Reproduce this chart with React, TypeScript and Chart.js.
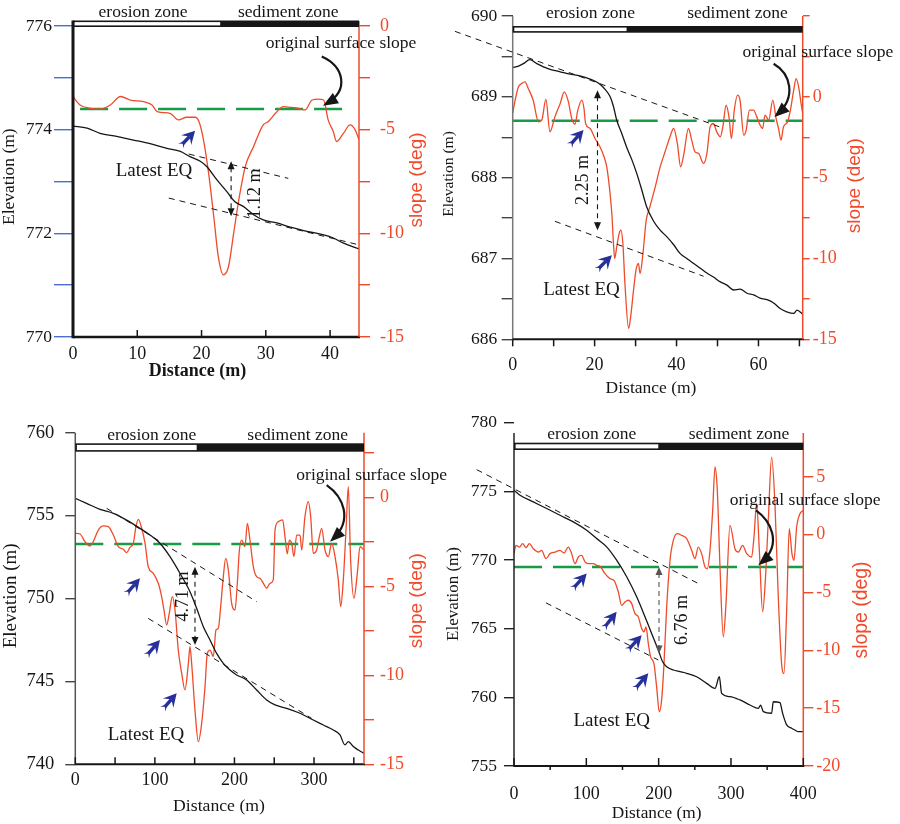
import React, { useEffect, useRef } from 'react';
import { Chart, registerables } from 'chart.js';

Chart.register(...registerables);

const SERIF = '"Liberation Serif", "Times New Roman", serif';
const SANS = '"Liberation Sans", Arial, sans-serif';
const RED = '#ef4b2b';
const GREEN = '#169c45';
const BLUE = '#27309a';
const INK = '#161616';

// ---------------- Panel 1 (top-left) ----------------
const p1ElevX = [0, 2.2, 4.2, 6.8, 9.4, 12.0, 14.6, 16.7, 18.2, 19.8, 20.8, 22.4, 23.9, 25.2, 26.5, 28.1, 29.6, 31.7, 33.8, 36.4, 39.0, 40.5, 42.1, 44.5];
const p1ElevY = [774.07, 774.03, 773.93, 773.87, 773.80, 773.73, 773.64, 773.58, 773.48, 773.39, 773.29, 773.03, 772.81, 772.61, 772.52, 772.36, 772.26, 772.20, 772.12, 772.04, 771.97, 771.91, 771.81, 771.70];
const p1SlopeX = [0, 1.1, 2.7, 4.2, 5.8, 7.4, 8.9, 11.0, 12.3, 13.1, 15.1, 16.4, 17.7, 19.0, 19.6, 20.3, 21.1, 21.9, 22.6, 23.4, 24.2, 25.0, 25.8, 26.8, 28.1, 29.6, 30.4, 31.5, 32.7, 33.8, 35.1, 36.1, 37.2, 38.2, 39.0, 39.7, 40.5, 41.0, 42.1, 43.1, 43.9, 44.5];
const p1SlopeY = [-3.40, -3.81, -3.97, -4.01, -3.81, -3.40, -3.57, -3.65, -3.81, -4.13, -4.21, -4.53, -4.40, -4.40, -4.61, -5.49, -7.10, -9.19, -11.11, -12.0, -11.6, -9.99, -8.38, -6.78, -5.81, -4.77, -4.61, -4.21, -3.89, -3.92, -3.97, -4.05, -3.57, -3.53, -3.57, -4.53, -5.09, -5.57, -5.17, -4.77, -5.01, -5.49];
const p1GreenX = [1.1, 42.6];
const p1GreenY = -4.0;
const p1Fits = [[18.0, 773.53, 33.5, 773.06], [14.9, 772.68, 44.4, 771.78]];
const p1Blue = [[16.4, 773.64, 19.0, 773.98]];
const p1Measure = [24.6, 773.39, 772.33];
const p1MeasureLabel = [28.3, 772.77];
const p1Curve = [38.7, 775.41, 42.1, 775.22, 43.1, 774.77, 38.9, 774.46];
const p1EqLabel = [12.6, 773.2];
const p1OrigLabel = [41.7, 775.67];
const p1ZoneSplit = 22.9;
const p1ZoneTextX = [10.9, 33.5];

// ---------------- Panel 2 (top-right) ----------------
const p2ElevX = [0, 1.4, 2.6, 4.2, 5.9, 7.5, 9.1, 11.6, 14.0, 16.4, 18.9, 20.9, 22.6, 23.8, 24.6, 25.4, 26.6, 27.8, 29.1, 30.3, 31.5, 32.7, 34.4, 36.0, 37.6, 39.3, 40.9, 42.5, 44.1, 45.8, 47.4, 49.0, 50.7, 52.3, 53.9, 55.5, 57.2, 58.8, 60.4, 62.1, 63.7, 65.3, 66.9, 68.6, 69.4, 70.8];
const p2ElevY = [689.36, 689.38, 689.41, 689.46, 689.41, 689.37, 689.34, 689.31, 689.28, 689.26, 689.22, 689.17, 689.09, 689.00, 688.88, 688.71, 688.55, 688.38, 688.22, 688.05, 687.85, 687.64, 687.46, 687.35, 687.27, 687.17, 687.06, 687.00, 686.94, 686.88, 686.82, 686.77, 686.71, 686.67, 686.61, 686.62, 686.57, 686.55, 686.51, 686.49, 686.45, 686.38, 686.34, 686.32, 686.36, 686.31];
const p2SlopeX = [0, 0.6, 1.4, 2.2, 3.0, 3.8, 5.0, 6.3, 7.1, 8.1, 9.1, 10.3, 11.6, 12.6, 13.6, 14.4, 15.2, 15.9, 16.9, 17.4, 17.8, 18.9, 20.1, 21.3, 22.3, 22.96, 23.6, 24.2, 24.6, 24.9, 25.4, 26.0, 26.4, 26.9, 27.4, 28.3, 28.8, 29.5, 30.1, 30.7, 31.1, 31.8, 32.6, 33.5, 34.8, 36.0, 37.2, 38.4, 39.3, 40.2, 41.0, 41.8, 42.9, 43.7, 44.5, 45.4, 46.6, 47.4, 48.2, 49.0, 49.8, 50.7, 51.3, 52.1, 52.8, 53.4, 54.1, 54.9, 55.5, 56.4, 57.0, 57.8, 58.8, 59.6, 60.4, 61.0, 61.6, 62.5, 63.5, 64.3, 64.9, 65.5, 66.1, 67.1, 67.8, 68.6, 69.2, 69.8, 70.4, 70.8];
const p2SlopeY = [-1.03, -0.21, 0.62, 0.82, 0.93, 0.52, -0.21, -1.55, -1.44, -0.16, -2.16, -1.24, -0.41, 0.31, -0.31, -1.34, -1.69, -0.82, -0.21, -0.72, -1.65, -1.96, -2.58, -3.09, -3.71, -4.33, -5.57, -7.22, -9.07, -10.0, -9.28, -8.45, -8.25, -9.07, -11.55, -14.33, -13.6, -11.96, -10.72, -10.31, -10.93, -9.69, -7.63, -6.8, -5.57, -4.33, -3.40, -2.47, -1.96, -2.89, -4.33, -3.51, -1.96, -2.68, -3.40, -3.51, -4.12, -3.51, -1.86, -1.65, -2.16, -2.47, -1.86, -0.52, -1.24, -2.58, -0.82, 0.10, -0.21, -2.37, -2.06, -0.82, -0.82, -1.24, -1.75, -1.96, -1.13, -1.44, -0.21, -1.34, -1.96, -2.68, -1.86, -1.55, -0.82, 0.41, 1.13, 0.62, -0.41, -1.03];
const p2GreenX = [0, 70.8];
const p2GreenY = -1.48;
const p2Fits = [[-14.1, 689.81, 51.5, 688.61], [10.3, 687.46, 46.6, 686.78]];
const p2Blue = [[13.2, 688.36, 17.3, 688.59], [19.9, 686.82, 24.2, 687.04]];
const p2Measure = [20.7, 689.08, 687.35];
const p2MeasureLabel = [17.2, 687.97];
const p2Curve = [63.7, 689.41, 67.8, 689.29, 69.4, 689.0, 63.9, 688.75];
const p2EqLabel = [16.8, 686.61];
const p2OrigLabel = [74.5, 689.55];
const p2ZoneSplit = 27.8;
const p2ZoneTextX = [19.0, 54.9];

// ---------------- Panel 3 (bottom-left) ----------------
const p3ElevX = [0, 14.2, 31.0, 47.8, 64.5, 81.3, 93.8, 106.4, 119.0, 131.5, 144.1, 152.5, 160.9, 169.3, 177.6, 186.0, 194.4, 202.8, 215.3, 227.9, 240.5, 251.0, 265.6, 282.4, 299.1, 311.7, 324.3, 332.6, 338.9, 343.1, 349.4, 355.7, 362.8];
const p3ElevY = [756.04, 755.74, 755.38, 755.14, 754.73, 754.23, 753.83, 753.33, 752.52, 751.52, 750.41, 749.41, 748.30, 747.50, 746.69, 746.09, 745.69, 745.39, 745.09, 744.48, 743.88, 743.58, 743.38, 743.08, 742.67, 742.37, 742.07, 741.77, 741.17, 741.37, 741.07, 740.86, 740.66];
const p3SlopeX = [0, 5.9, 12.1, 18.4, 22.6, 28.9, 35.2, 41.5, 47.8, 54.1, 60.3, 64.5, 68.7, 72.9, 76.2, 79.2, 83.4, 87.6, 91.7, 98.0, 104.3, 108.5, 111.4, 114.8, 118.1, 121.9, 125.3, 129.4, 133.7, 137.8, 142.1, 144.1, 146.2, 150.4, 154.6, 158.8, 163.0, 165.9, 169.3, 173.4, 176.8, 179.7, 182.7, 186.0, 189.0, 192.3, 196.5, 200.7, 203.6, 206.2, 209.0, 213.2, 216.2, 219.5, 223.7, 227.9, 232.1, 236.3, 240.5, 244.7, 248.8, 251.0, 255.1, 260.6, 263.5, 266.4, 269.0, 271.9, 274.8, 278.2, 282.4, 284.5, 288.6, 292.8, 295.8, 299.1, 303.3, 306.7, 309.6, 313.8, 318.0, 322.2, 326.4, 330.5, 333.5, 336.8, 340.2, 343.1, 346.0, 350.2, 354.4, 357.8, 362.8];
const p3SlopeY = [-2.02, -2.06, -2.49, -2.73, -2.49, -1.84, -1.61, -1.65, -2.12, -2.77, -2.92, -3.11, -2.81, -2.58, -1.65, -1.24, -1.74, -2.58, -3.90, -4.27, -4.83, -5.58, -6.33, -7.17, -6.52, -5.58, -6.33, -8.58, -9.89, -10.82, -9.33, -8.39, -9.33, -11.95, -13.73, -12.70, -10.64, -8.76, -8.58, -8.95, -7.45, -7.36, -6.14, -4.46, -3.43, -4.08, -5.96, -6.33, -4.83, -2.96, -2.40, -2.77, -1.46, -2.40, -3.90, -4.46, -4.55, -4.83, -5.11, -4.83, -4.64, -1.84, -1.37, -1.27, -2.21, -3.18, -2.40, -2.58, -3.33, -2.12, -2.12, -2.96, -1.09, -0.24, -1.09, -3.15, -2.96, -2.21, -1.74, -2.96, -3.33, -2.58, -3.33, -4.64, -6.14, -4.64, -1.84, 0.60, -3.52, -5.67, -4.27, -2.77, -2.96];
const p3GreenX = [0, 362.8];
const p3GreenY = -2.62;
const p3Fits = [[39.4, 755.44, 227.9, 749.81], [91.7, 748.80, 297.0, 742.77]];
const p3Blue = [[61.2, 750.11, 81.3, 751.22], [86.7, 746.39, 106.4, 747.50], [107.3, 743.18, 127.4, 744.28]];
const p3Measure = [150.4, 751.92, 747.2];
const p3MeasureLabel = [135.7, 750.12];
const p3Curve = [315.9, 756.84, 336.8, 756.14, 349.4, 754.73, 320.1, 753.43];
const p3EqLabel = [88.8, 741.79];
const p3OrigLabel = [372.4, 757.45];
const p3ZoneSplit = 152.5;
const p3ZoneTextX = [96, 279.4];

// ---------------- Panel 4 (bottom-right) ----------------
const p4ElevX = [0, 8.3, 26.7, 45.2, 63.6, 82.0, 100.5, 114.3, 128.1, 141.9, 155.8, 169.6, 181.1, 190.3, 199.5, 205.5, 211.1, 220.3, 229.5, 238.7, 252.5, 266.4, 277.9, 283.9, 287.1, 298.6, 312.4, 326.3, 337.8, 341.0, 344.7, 356.2, 358.5, 367.7, 371.4, 377.0, 383.9, 388.5, 393.1, 400];
const p4ElevY = [775.08, 774.72, 774.23, 773.75, 773.26, 772.78, 772.17, 771.56, 770.96, 769.99, 768.78, 767.32, 765.87, 764.65, 763.44, 762.59, 762.23, 761.99, 761.87, 761.75, 761.50, 761.02, 760.65, 761.50, 760.29, 760.05, 759.81, 759.44, 759.20, 759.44, 758.96, 758.84, 759.68, 759.61, 758.84, 757.99, 757.75, 757.62, 757.50, 757.50];
const p4SlopeX = [0, 2.8, 7.4, 12.0, 16.6, 21.2, 26.7, 33.6, 38.2, 44.2, 49.8, 56.7, 63.6, 69.1, 75.1, 79.7, 84.3, 88.9, 93.5, 98.2, 102.8, 109.7, 114.3, 119.8, 125.8, 132.7, 138.2, 144.2, 148.8, 153.5, 158.1, 162.7, 167.3, 171.9, 176.5, 179.7, 182.5, 185.7, 188.9, 193.5, 197.2, 200.9, 204.1, 207.4, 211.1, 215.7, 220.3, 225.8, 231.8, 238.7, 245.6, 250.2, 254.8, 259.4, 264.1, 267.3, 271.0, 274.7, 277.9, 281.1, 284.8, 289.4, 293.1, 298.6, 305.5, 310.1, 316.1, 321.7, 328.6, 331.8, 335.5, 339.2, 343.8, 347.5, 351.6, 356.2, 360.8, 365.4, 370.0, 373.3, 377.0, 380.6, 384.3, 387.1, 390.8, 395.4, 400];
const p4SlopeY = [-1.64, -0.92, -1.07, -0.78, -1.12, -0.78, -1.21, -1.50, -1.35, -2.07, -1.64, -1.50, -1.35, -1.58, -1.07, -1.64, -2.51, -1.93, -1.79, -2.36, -2.51, -2.51, -2.65, -2.79, -3.37, -3.80, -3.95, -4.95, -6.11, -5.82, -5.67, -5.96, -6.83, -7.11, -8.12, -8.41, -7.98, -9.42, -10.57, -11.15, -13.16, -15.32, -14.31, -11.15, -6.25, -2.22, -0.49, 0.09, -0.06, -0.35, -1.35, -2.07, -1.07, -1.64, -2.79, -2.94, -1.35, 2.10, 5.85, 3.83, -2.79, -8.84, -5.96, 0.81, -1.21, -1.50, -0.92, -1.64, -1.93, -0.20, 2.68, -1.35, -6.68, -3.95, 1.24, 6.71, 2.68, -5.39, -11.15, -12.01, -6.54, 0.52, -1.64, -2.22, 0.66, 1.81, 2.10];
const p4GreenX = [0, 400];
const p4GreenY = -2.79;
const p4Fits = [[-51.6, 776.58, 254.8, 768.29], [44.2, 766.88, 199.5, 762.72]];
const p4Blue = [[77.4, 767.68, 100.5, 769.02], [120.3, 764.78, 141.9, 766.23], [154.4, 763.25, 176.5, 764.53], [164.1, 760.41, 185.7, 761.75]];
const p4Measure = [200.5, 769.5, 763.2];
const p4MeasureLabel = [232, 765.64];
const p4Curve = [334.6, 773.62, 353.9, 772.9, 372.4, 771.2, 337.8, 769.62];
const p4EqLabel = [135.1, 758.24];
const p4OrigLabel = [402.5, 774.37];
const p4ZoneSplit = 199.5;
const p4ZoneTextX = [107.5, 311.2];

// ---------------- Panel layout / style ----------------
const panels: any[] = [
  {
    left: 0, top: 0, w: 450, h: 400, padTop: 26, leftW: 73, rightW: 91, bottomH: 63,
    xMax: 44.5, xStep: 10, xLabelStep: 10, xTickMajor: 7, xTickMinor: 7, xPad: 6,
    yLMin: 770, yLMax: 776, yLStep: 1, yLLabelStep: 2, yLTickLen: 19, yLTickColor: '#4a6fd0', yLPad: 2, yLFont: 17.5,
    yRMin: -15, yRMax: 0, yRStep: 2.5, yRLabelMax: 0, yRTickLen: 11, yRPad: 10,
    axisLColor: INK, axisLW: 3, axisLTop: -5.5, axisRTop: -5, axisBW: 2.5,
    barTop: -5.5, barH: 6.5, zoneGap: 4,
    measureColor: INK, measureText: '1.12 m', eqWeight: 'normal',
    elevTitle: [9.5, 176.7, 17.5], slopeTitle: [416.7, 180, 19], distTitle: [197.5, 371.7, 18, 'bold'],
    elevX: p1ElevX, elevY: p1ElevY, slopeX: p1SlopeX, slopeY: p1SlopeY, greenX: p1GreenX, greenY: p1GreenY,
    fits: p1Fits, blue: p1Blue, measure: p1Measure, measureLabel: p1MeasureLabel, curve: p1Curve,
    eqLabel: p1EqLabel, origLabel: p1OrigLabel, zoneSplit: p1ZoneSplit, zoneTextX: p1ZoneTextX,
  },
  {
    left: 440, top: 0, w: 460, h: 400, padTop: 16, leftW: 72.7, rightW: 97.3, bottomH: 60.7,
    xMax: 70.8, xStep: 10, xLabelStep: 20, xTickMajor: -7, xTickMinor: -7, xPad: 15,
    yLMin: 686, yLMax: 690, yLStep: 0.5, yLLabelStep: 1, yLTickLen: 11, yLTickColor: '#444', yLPad: 4.5, yLFont: 17.5,
    yRMin: -15, yRMax: 5, yRStep: 2.5, yRLabelMax: 0, yRTickLen: 7, yRPad: 3,
    axisLColor: '#777', axisLW: 1.5, axisLTop: 0, axisRTop: 0, axisBW: 2,
    barTop: 10, barH: 6.7, zoneGap: 7.7,
    measureColor: INK, measureText: '2.25 m', eqWeight: 'normal',
    elevTitle: [9, 174, 15.5], slopeTitle: [415, 185.8, 19], distTitle: [211, 388.3, 17.5, 'normal'],
    elevX: p2ElevX, elevY: p2ElevY, slopeX: p2SlopeX, slopeY: p2SlopeY, greenX: p2GreenX, greenY: p2GreenY,
    fits: p2Fits, blue: p2Blue, measure: p2Measure, measureLabel: p2MeasureLabel, curve: p2Curve,
    eqLabel: p2EqLabel, origLabel: p2OrigLabel, zoneSplit: p2ZoneSplit, zoneTextX: p2ZoneTextX,
  },
  {
    left: 0, top: 400, w: 460, h: 424, padTop: 32.7, leftW: 75.3, rightW: 96, bottomH: 59.7,
    xMax: 362.8, xStep: 50, xLabelStep: 100, xTickMajor: 7, xTickMinor: 7, xPad: 5,
    yLMin: 740, yLMax: 760, yLStep: 5, yLLabelStep: 5, yLTickLen: 10, yLTickColor: '#444', yLPad: 11, yLFont: 18.5,
    yRMin: -15, yRMax: 3.63, yRStep: 2.5, yRLabelMax: 0, yRTickLen: 10, yRPad: 6,
    axisLColor: '#555', axisLW: 1.5, axisLTop: 0, axisRTop: 0, axisBW: 2,
    barTop: 10.6, barH: 8.4, zoneGap: 3.6,
    measureColor: INK, measureText: '4.71 m', eqWeight: 'normal',
    elevTitle: [11, 195.8, 19], slopeTitle: [416.7, 200.8, 19], distTitle: [219, 406.7, 17.7, 'normal'],
    elevX: p3ElevX, elevY: p3ElevY, slopeX: p3SlopeX, slopeY: p3SlopeY, greenX: p3GreenX, greenY: p3GreenY,
    fits: p3Fits, blue: p3Blue, measure: p3Measure, measureLabel: p3MeasureLabel, curve: p3Curve,
    eqLabel: p3EqLabel, origLabel: p3OrigLabel, zoneSplit: p3ZoneSplit, zoneTextX: p3ZoneTextX,
  },
  {
    left: 440, top: 400, w: 460, h: 424, padTop: 22.7, leftW: 74, rightW: 96.7, bottomH: 58,
    xMax: 400, xStep: 50, xLabelStep: 100, xTickMajor: 8, xTickMinor: -4, xPad: 17,
    yLMin: 755, yLMax: 780, yLStep: 5, yLLabelStep: 5, yLTickLen: 10, yLTickColor: '#222', yLPad: 7, yLFont: 17.5,
    yRMin: -20, yRMax: 9.68, yRStep: 5, yRLabelMax: 5, yRTickLen: 10, yRPad: 3,
    axisLColor: '#222', axisLW: 1.5, axisLTop: 10.3, axisRTop: 10.3, axisBW: 2,
    barTop: 20, barH: 7.3, zoneGap: 3.7,
    measureColor: '#555', measureText: '6.76 m', eqWeight: 'normal',
    elevTitle: [14, 194, 17], slopeTitle: [421.7, 210, 19.4], distTitle: [216.7, 413.3, 17.3, 'normal'],
    elevX: p4ElevX, elevY: p4ElevY, slopeX: p4SlopeX, slopeY: p4SlopeY, greenX: p4GreenX, greenY: p4GreenY,
    fits: p4Fits, blue: p4Blue, measure: p4Measure, measureLabel: p4MeasureLabel, curve: p4Curve,
    eqLabel: p4EqLabel, origLabel: p4OrigLabel, zoneSplit: p4ZoneSplit, zoneTextX: p4ZoneTextX,
  },
];

function zip(xs: number[], ys: number[]) {
  return xs.map((x, i) => ({ x, y: ys[i] }));
}
const isMult = (v: number, s: number) => Math.abs(v / s - Math.round(v / s)) < 1e-6;

function seg(ctx: any, x1: number, y1: number, x2: number, y2: number, color: string, w: number, dash: number[] = []) {
  ctx.save();
  ctx.strokeStyle = color;
  ctx.lineWidth = w;
  ctx.setLineDash(dash);
  ctx.beginPath();
  ctx.moveTo(x1, y1);
  ctx.lineTo(x2, y2);
  ctx.stroke();
  ctx.restore();
}

function head(ctx: any, tx: number, ty: number, ang: number, len: number, half: number, color: string) {
  const c = Math.cos(ang), s = Math.sin(ang);
  ctx.save();
  ctx.fillStyle = color;
  ctx.beginPath();
  ctx.moveTo(tx, ty);
  ctx.lineTo(tx - len * c - half * s, ty - len * s + half * c);
  ctx.lineTo(tx - len * c + half * s, ty - len * s - half * c);
  ctx.closePath();
  ctx.fill();
  ctx.restore();
}

// blue "dart" arrow pointing from (x0,y0) towards tip (x1,y1)
function dart(ctx: any, x0: number, y0: number, x1: number, y1: number) {
  const ang = Math.atan2(y1 - y0, x1 - x0);
  const c = Math.cos(ang), s = Math.sin(ang);
  const nx = -s, ny = c;
  const L = 20;
  const tx = x1 - L * c, ty = y1 - L * s;
  ctx.save();
  ctx.fillStyle = BLUE;
  ctx.beginPath();
  ctx.moveTo(x1, y1);
  ctx.lineTo(x1 - 13 * c + 7 * nx, y1 - 13 * s + 7 * ny);
  ctx.lineTo(x1 - 8 * c, y1 - 8 * s);
  ctx.lineTo(x1 - 13 * c - 7 * nx, y1 - 13 * s - 7 * ny);
  ctx.closePath();
  ctx.fill();
  ctx.strokeStyle = BLUE;
  ctx.lineWidth = 3.4;
  ctx.beginPath();
  ctx.moveTo(tx + 2 * c, ty + 2 * s);
  ctx.lineTo(x1 - 8 * c, y1 - 8 * s);
  ctx.stroke();
  ctx.beginPath();
  ctx.moveTo(tx + 6 * c, ty + 6 * s);
  ctx.lineTo(tx - 1 * c + 3.5 * nx, ty - 1 * s + 3.5 * ny);
  ctx.lineTo(tx + 2 * c, ty + 2 * s);
  ctx.lineTo(tx - 1 * c - 3.5 * nx, ty - 1 * s - 3.5 * ny);
  ctx.closePath();
  ctx.fill();
  ctx.restore();
}

function txt(ctx: any, s: string, x: number, y: number, font: string, color: string, align = 'center', base = 'middle', rot = 0) {
  ctx.save();
  ctx.translate(x, y);
  if (rot) ctx.rotate(rot);
  ctx.font = font;
  ctx.fillStyle = color;
  ctx.textAlign = align;
  ctx.textBaseline = base;
  ctx.fillText(s, 0, 0);
  ctx.restore();
}

function makeOverlay(p: any) {
  return {
    id: 'overlay',
    afterDraw(chart: any) {
      const ctx = chart.ctx;
      const ca = chart.chartArea;
      const X = (v: number) => chart.scales.x.getPixelForValue(v);
      const Y = (v: number) => chart.scales.yL.getPixelForValue(v);

      seg(ctx, ca.left, ca.top + p.axisLTop, ca.left, ca.bottom + p.axisBW / 2, p.axisLColor, p.axisLW);
      seg(ctx, ca.left, ca.bottom, ca.right + 1, ca.bottom, INK, p.axisBW);
      seg(ctx, ca.right, ca.top + p.axisRTop, ca.right, ca.bottom, RED, 1.5);

      for (const t of chart.scales.x.ticks) {
        const xx = X(t.value);
        const len = isMult(t.value, p.xLabelStep) ? p.xTickMajor : p.xTickMinor;
        seg(ctx, xx, ca.bottom, xx, ca.bottom - len, INK, 1.5);
      }

      const bx0 = ca.left, bx1 = ca.right, bs = X(p.zoneSplit);
      const by = ca.top + p.barTop;
      ctx.save();
      ctx.fillStyle = INK;
      ctx.fillRect(bx0, by, bx1 - bx0, p.barH);
      ctx.fillStyle = '#fff';
      ctx.fillRect(bx0 + 1.6, by + 1.6, bs - bx0 - 1.6, p.barH - 3.2);
      ctx.restore();
      const zf = `17.5px ${SERIF}`;
      txt(ctx, 'erosion zone', X(p.zoneTextX[0]), by - p.zoneGap, zf, INK, 'center', 'alphabetic');
      txt(ctx, 'sediment zone', X(p.zoneTextX[1]), by - p.zoneGap, zf, INK, 'center', 'alphabetic');

      for (const f of p.fits) {
        seg(ctx, X(f[0]), Y(f[1]), X(f[2]), Y(f[3]), INK, 1, [6, 5]);
      }

      const mx = X(p.measure[0]), my0 = Y(p.measure[1]), my1 = Y(p.measure[2]);
      seg(ctx, mx, my0 + 6, mx, my1 - 6, p.measureColor, 1.1, [5, 4]);
      head(ctx, mx, my0, -Math.PI / 2, 8, 3.5, p.measureColor);
      head(ctx, mx, my1, Math.PI / 2, 8, 3.5, p.measureColor);
      txt(ctx, p.measureText, X(p.measureLabel[0]), Y(p.measureLabel[1]), `18px ${SERIF}`, INK, 'center', 'middle', -Math.PI / 2);

      for (const b of p.blue) dart(ctx, X(b[0]), Y(b[1]), X(b[2]), Y(b[3]));

      const cv = p.curve;
      const c2x = X(cv[4]), c2y = Y(cv[5]), ex = X(cv[6]), ey = Y(cv[7]);
      ctx.save();
      ctx.strokeStyle = INK;
      ctx.lineWidth = 2.2;
      ctx.beginPath();
      ctx.moveTo(X(cv[0]), Y(cv[1]));
      ctx.bezierCurveTo(X(cv[2]), Y(cv[3]), c2x, c2y, ex + (c2x - ex) * 0.12, ey + (c2y - ey) * 0.12);
      ctx.stroke();
      ctx.restore();
      head(ctx, ex, ey, Math.atan2(ey - c2y, ex - c2x), 15, 6, INK);

      txt(ctx, 'Latest EQ', X(p.eqLabel[0]), Y(p.eqLabel[1]), `${p.eqWeight} 19px ${SERIF}`, INK);
      txt(ctx, 'original surface slope', X(p.origLabel[0]), Y(p.origLabel[1]), `17.5px ${SERIF}`, INK);

      const et = p.elevTitle, st = p.slopeTitle, dt = p.distTitle;
      txt(ctx, 'Elevation (m)', et[0], et[1], `${et[2]}px ${SERIF}`, INK, 'center', 'middle', -Math.PI / 2);
      txt(ctx, 'slope (deg)', st[0], st[1], `${st[2]}px ${SANS}`, RED, 'center', 'middle', -Math.PI / 2);
      txt(ctx, 'Distance (m)', dt[0], dt[1], `${dt[3]} ${dt[2]}px ${SERIF}`, INK);
    },
  };
}

function buildConfig(p: any): any {
  return {
    type: 'line',
    data: {
      datasets: [
        {
          data: zip(p.elevX, p.elevY), yAxisID: 'yL', borderColor: INK, borderWidth: 1.3,
          pointRadius: 0, cubicInterpolationMode: 'monotone',
        },
        {
          data: zip(p.slopeX, p.slopeY), yAxisID: 'yR', borderColor: RED, borderWidth: 1.3,
          pointRadius: 0, cubicInterpolationMode: 'monotone',
        },
        {
          data: zip(p.greenX, [p.greenY, p.greenY]), yAxisID: 'yR', borderColor: GREEN,
          borderWidth: 2.6, borderDash: [28, 11], pointRadius: 0,
        },
      ],
    },
    options: {
      responsive: false,
      animation: false,
      events: [],
      layout: { padding: { top: p.padTop, left: 0, right: 0, bottom: 0 } },
      plugins: { legend: { display: false }, tooltip: { enabled: false }, title: { display: false } },
      scales: {
        x: {
          type: 'linear', position: 'bottom', min: 0, max: p.xMax,
          afterFit: (s: any) => { s.height = p.bottomH; },
          grid: { display: false, drawTicks: false, tickLength: 0 },
          border: { display: false },
          ticks: {
            stepSize: p.xStep, includeBounds: false, autoSkip: false, maxRotation: 0, padding: p.xPad,
            color: INK, font: { family: SERIF, size: 18 },
            callback: (v: number) => (isMult(v, p.xLabelStep) ? String(v) : ''),
          },
        },
        yL: {
          type: 'linear', position: 'left', min: p.yLMin, max: p.yLMax,
          afterFit: (s: any) => { s.width = p.leftW; },
          grid: { drawOnChartArea: false, drawTicks: true, tickLength: p.yLTickLen, color: p.yLTickColor, tickColor: p.yLTickColor, lineWidth: 1.4 },
          border: { display: false },
          ticks: {
            stepSize: p.yLStep, includeBounds: false, autoSkip: false, padding: p.yLPad,
            color: INK, font: { family: SERIF, size: p.yLFont },
            callback: (v: number) => (isMult(v, p.yLLabelStep) ? String(v) : ''),
          },
        },
        yR: {
          type: 'linear', position: 'right', min: p.yRMin, max: p.yRMax,
          afterFit: (s: any) => { s.width = p.rightW; },
          grid: { drawOnChartArea: false, drawTicks: true, tickLength: p.yRTickLen, color: RED, tickColor: RED, lineWidth: 1.4 },
          border: { display: false },
          ticks: {
            stepSize: p.yRStep, includeBounds: false, autoSkip: false, padding: p.yRPad,
            color: RED, font: { family: SERIF, size: 18 },
            callback: (v: number) => (isMult(v, 5) && v <= p.yRLabelMax ? String(v) : ''),
          },
        },
      },
    },
    plugins: [makeOverlay(p)],
  };
}

function PanelChart({ p }: { p: any }) {
  const ref = useRef<HTMLCanvasElement | null>(null);
  useEffect(() => {
    if (!ref.current) return;
    const chart = new Chart(ref.current, buildConfig(p));
    return () => chart.destroy();
  }, [p]);
  return (
    <canvas
      ref={ref}
      width={p.w}
      height={p.h}
      style={{ position: 'absolute', left: p.left, top: p.top, width: p.w, height: p.h }}
    />
  );
}

export default function App() {
  return (
    <div style={{ position: 'absolute', left: 0, top: 0, width: 900, height: 824, background: '#fff', overflow: 'hidden' }}>
      {panels.map((p, i) => (
        <PanelChart key={i} p={p} />
      ))}
    </div>
  );
}
